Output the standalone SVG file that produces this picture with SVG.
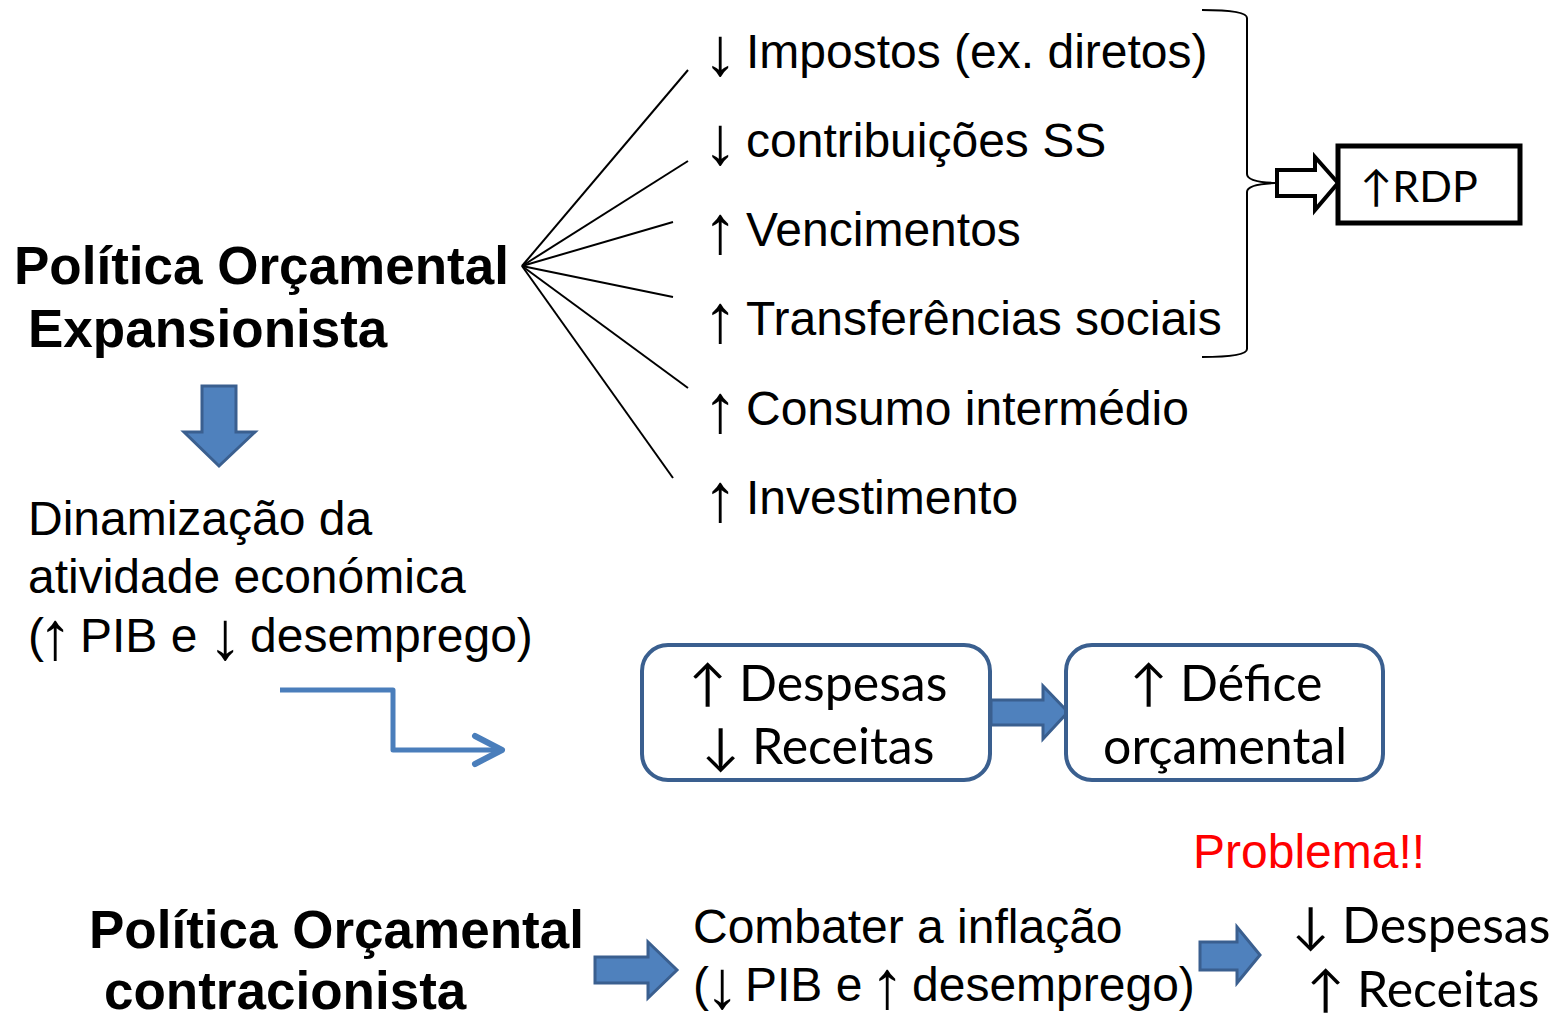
<svg xmlns="http://www.w3.org/2000/svg" width="1556" height="1015" viewBox="0 0 1556 1015">
<style>
.b{font-family:"Liberation Sans",Arial,sans-serif;font-weight:bold;font-size:53px;fill:#000}
.r{font-family:"Liberation Sans",Arial,sans-serif;font-size:48px;fill:#000}
.a{font-size:68px}
.c{font-family:Lato,"Open Sans",sans-serif;font-size:50px;fill:#000;text-anchor:middle}
.ln{stroke:#000;stroke-width:2;fill:none}
.blk{fill:#4F81BD;stroke:#3A5F8F;stroke-width:3}
.box{fill:#fff;stroke:#3A5F8F;stroke-width:4}
</style>
<rect width="1556" height="1015" fill="#fff"/>
<g id="connectors">
<line class="ln" x1="522" y1="266" x2="688" y2="70"/>
<line class="ln" x1="522" y1="266" x2="688" y2="161"/>
<line class="ln" x1="522" y1="266" x2="673" y2="222"/>
<line class="ln" x1="522" y1="266" x2="673" y2="297"/>
<line class="ln" x1="522" y1="266" x2="688" y2="388"/>
<line class="ln" x1="522" y1="266" x2="673" y2="478"/>
<path class="ln" d="M1202,10 Q1247,10 1247,18 L1247,174 Q1247,182 1275,183 Q1247,184 1247,192 L1247,349 Q1247,357 1202,357"/>
<path d="M1277,170 L1315,170 L1315,157 L1338,183 L1315,210 L1315,196 L1277,196 Z" fill="#fff" stroke="#000" stroke-width="4" stroke-linejoin="miter"/>
<path d="M202,386 L236,386 L236,432 L255,432 L219,466 L184,432 L202,432 Z" class="blk"/>
<path d="M280,690 L393,690 L393,750 L500,750" fill="none" stroke="#4A7EBB" stroke-width="5" stroke-linejoin="round"/>
<path d="M475,736 L502,750 L475,764" fill="none" stroke="#4A7EBB" stroke-width="6" stroke-linecap="round" stroke-linejoin="round"/>
<path d="M991,700 L1043,700 L1043,686 L1068,712 L1043,739 L1043,725 L991,725 Z" class="blk"/>
<path d="M595,957 L648,957 L648,942 L677,970 L648,998 L648,983 L595,983 Z" class="blk"/>
<path d="M1200,942 L1237,942 L1237,927 L1260,955 L1237,983 L1237,970 L1200,970 Z" class="blk"/>
</g>
<g id="n-expansionista">
<text class="b" x="14" y="284">Política Orçamental</text>
<text class="b" x="28" y="347">Expansionista</text>
</g>
<g id="n-items">
<text class="r"><tspan class="a" x="703" y="75">↓</tspan><tspan x="746" y="68">Impostos (ex. diretos)</tspan></text>
<text class="r"><tspan class="a" x="703" y="164">↓</tspan><tspan x="746" y="157">contribuições SS</tspan></text>
<text class="r"><tspan class="a" x="703" y="253">↑</tspan><tspan x="746" y="246">Vencimentos</tspan></text>
<text class="r"><tspan class="a" x="703" y="342">↑</tspan><tspan x="746" y="335">Transferências sociais</tspan></text>
<text class="r"><tspan class="a" x="703" y="432">↑</tspan><tspan x="746" y="425">Consumo intermédio</tspan></text>
<text class="r"><tspan class="a" x="703" y="521">↑</tspan><tspan x="746" y="514">Investimento</tspan></text>
</g>
<g id="n-rdp">
<rect x="1338" y="146" width="182" height="77" fill="#fff" stroke="#000" stroke-width="5"/>
<text x="1360" y="202" style="font-family:Lato,'Open Sans',sans-serif;font-size:43px">↑RDP</text>
</g>
<g id="n-dinamizacao">
<text class="r" x="28" y="535">Dinamização da</text>
<text class="r" x="28" y="593">atividade económica</text>
<text class="r"><tspan x="28" y="652">(</tspan><tspan class="a" x="38" y="659">↑</tspan><tspan x="80" y="652">PIB e</tspan><tspan class="a" x="208" y="659">↓</tspan><tspan x="250" y="652">desemprego)</tspan></text>
</g>
<g id="n-despesas">
<rect class="box" x="642" y="645" width="348" height="135" rx="26"/>
<text class="c" x="818" y="701">↑ Despesas</text>
<text class="c" x="818" y="764">↓ Receitas</text>
</g>
<g id="n-defice">
<rect class="box" x="1066" y="645" width="317" height="135" rx="26"/>
<text class="c" x="1226" y="701">↑ Défice</text>
<text class="c" x="1225" y="764">orçamental</text>
</g>
<g id="n-problema">
<text class="r" x="1193" y="868" style="fill:#FF0000">Problema!!</text>
</g>
<g id="n-contracionista">
<text class="b" x="89" y="948">Política Orçamental</text>
<text class="b" x="104" y="1009">contracionista</text>
</g>
<g id="n-combater">
<text class="r" x="693" y="943">Combater a inflação</text>
<text class="r"><tspan x="693" y="1001">(</tspan><tspan class="a" x="705" y="1008">↓</tspan><tspan x="745" y="1001">PIB e</tspan><tspan class="a" x="870" y="1008">↑</tspan><tspan x="912" y="1001">desemprego)</tspan></text>
</g>
<g id="n-final">
<text class="c" x="1421" y="943">↓ Despesas</text>
<text class="c" x="1423" y="1007">↑ Receitas</text>
</g>
</svg>
